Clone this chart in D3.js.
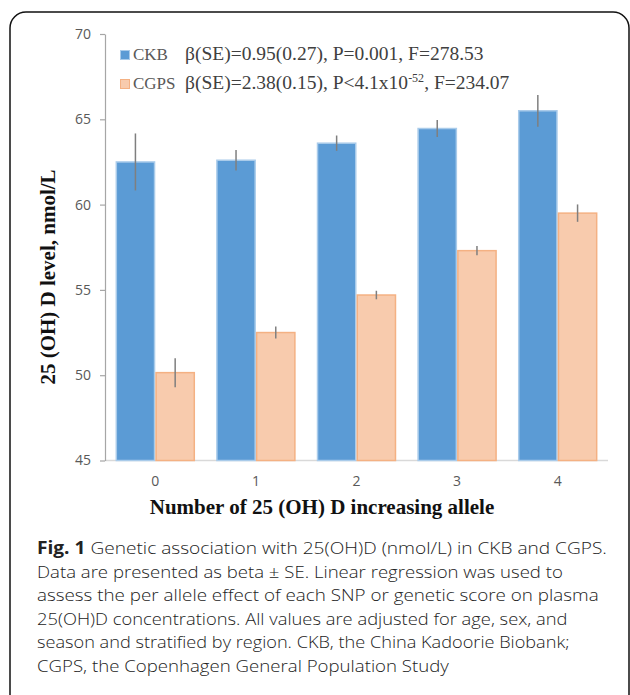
<!DOCTYPE html>
<html>
<head>
<meta charset="utf-8">
<script src="https://cdn.jsdelivr.net/npm/d3@7"></script>
<style>
  html, body { margin: 0; padding: 0; background: #fff; }
  svg { display: block; }
</style>
</head>
<body>
<svg id="chart" width="630" height="695"></svg>
<script>
const categories = ["0", "1", "2", "3", "4"];
const seriesNames = ["CKB", "CGPS"];
const ckbValues = [62.5, 62.6, 63.6, 64.46, 65.5];
const ckbSE = [1.67, 0.6, 0.45, 0.5, 0.93];
const cgpsValues = [50.15, 52.5, 54.7, 57.3, 59.5];
const cgpsSE = [0.85, 0.35, 0.25, 0.27, 0.51];
const yTicks = [45, 50, 55, 60, 65, 70];
const captionLines = [
  ["Fig. 1", " Genetic association with 25(OH)D (nmol/L) in CKB and CGPS."],
  ["", "Data are presented as beta \u00b1 SE. Linear regression was used to"],
  ["", "assess the per allele effect of each SNP or genetic score on plasma"],
  ["", "25(OH)D concentrations. All values are adjusted for age, sex, and"],
  ["", "season and stratified by region. CKB, the China Kadoorie Biobank;"],
  ["", "CGPS, the Copenhagen General Population Study"]
];
const captionLineEnds = [607, 563, 599, 568, 570, 449];

const svg = d3.select("#chart");

// frame
svg.append("rect")
  .attr("x", 10).attr("y", 12).attr("width", 619).attr("height", 740)
  .attr("rx", 16).attr("ry", 16)
  .attr("fill", "none").attr("stroke", "#111").attr("stroke-width", 1.5);

const x0 = d3.scaleBand().domain(categories).range([105, 608])
  .paddingInner(0.21).paddingOuter(0.105);
const x1 = d3.scaleBand().domain(seriesNames).range([0, x0.bandwidth()]);
const y = d3.scaleLinear().domain([45, 70]).range([460.5, 34]);

const colors = { CKB: "#5B9BD5", CGPS: "#F8CBAD" };
const strokes = { CKB: "#A9CBEA", CGPS: "#F4B183" };

const data = categories.map((c, i) => ({
  cat: c,
  vals: [
    { s: "CKB", v: ckbValues[i], se: ckbSE[i] },
    { s: "CGPS", v: cgpsValues[i], se: cgpsSE[i] }
  ]
}));

// x axis line
svg.append("line")
  .attr("x1", 105).attr("x2", 608)
  .attr("y1", y(45)).attr("y2", y(45))
  .attr("stroke", "#D9D9D9").attr("stroke-width", 1.5);

const groups = svg.append("g").selectAll("g").data(data).join("g")
  .attr("transform", d => `translate(${x0(d.cat)},0)`);

groups.selectAll("rect").data(d => d.vals).join("rect")
  .attr("x", d => x1(d.s) + 0.75)
  .attr("width", x1.bandwidth() - 1.5)
  .attr("y", d => y(d.v))
  .attr("height", d => y(45) - y(d.v))
  .attr("fill", d => colors[d.s])
  .attr("stroke", d => strokes[d.s])
  .attr("stroke-width", 1.5);

groups.selectAll("line.err").data(d => d.vals).join("line")
  .attr("class", "err")
  .attr("x1", d => x1(d.s) + x1.bandwidth() / 2)
  .attr("x2", d => x1(d.s) + x1.bandwidth() / 2)
  .attr("y1", d => y(d.v + d.se))
  .attr("y2", d => y(d.v - d.se))
  .attr("stroke", "#7F7F7F").attr("stroke-width", 1.5);

// y axis
const yAxis = d3.axisLeft(y).tickValues(yTicks).tickSize(5).tickPadding(9).tickSizeOuter(0);
const ya = svg.append("g").attr("transform", "translate(105,0)").call(yAxis);
ya.select(".domain").attr("stroke", "#A6A6A6").attr("stroke-width", 1.2);
ya.selectAll(".tick line").attr("stroke", "#A6A6A6").attr("stroke-width", 1.2);
ya.selectAll(".tick text")
  .attr("fill", "#595959")
  .style("font-family", "'Open Sans', 'Noto Sans', sans-serif")
  .style("font-size", "14px");

// x axis labels
const xAxis = d3.axisBottom(x0).tickSize(0).tickPadding(16);
const xa = svg.append("g").attr("transform", `translate(0,${y(45)})`).call(xAxis);
xa.select(".domain").remove();
xa.selectAll(".tick text")
  .attr("fill", "#595959")
  .style("font-family", "'Open Sans', 'Noto Sans', sans-serif")
  .style("font-size", "14px");

// axis titles
svg.append("text")
  .attr("x", 322).attr("y", 514)
  .attr("text-anchor", "middle")
  .style("font-family", "'Liberation Serif', 'Times New Roman', serif")
  .style("font-weight", "bold").style("font-size", "21px")
  .attr("fill", "#111")
  .text("Number of 25 (OH) D increasing allele");

svg.append("text")
  .attr("transform", "translate(55,277) rotate(-90)")
  .attr("text-anchor", "middle")
  .style("font-family", "'Liberation Serif', 'Times New Roman', serif")
  .style("font-weight", "bold").style("font-size", "21px")
  .attr("fill", "#111")
  .text("25 (OH) D level, nmol/L");

// legend
const legendRows = [
  { s: "CKB", y: 60 },
  { s: "CGPS", y: 89 }
];
const lg = svg.append("g");
lg.selectAll("rect").data(legendRows).join("rect")
  .attr("x", 120.5).attr("y", d => d.y - 9.5)
  .attr("width", 9).attr("height", 9)
  .attr("fill", d => colors[d.s]).attr("stroke", d => strokes[d.s]).attr("stroke-width", 1);
lg.selectAll("text.name").data(legendRows).join("text")
  .attr("class", "name")
  .attr("x", 133).attr("y", d => d.y)
  .style("font-family", "'Liberation Serif', 'Times New Roman', serif")
  .style("font-size", "17px").attr("fill", "#595959")
  .text(d => d.s);

const statFont = "'Liberation Serif', 'Times New Roman', serif";
const t1 = svg.append("text").attr("x", 185).attr("y", 60)
  .style("font-family", statFont).style("font-size", "19.5px").attr("fill", "#404040");
t1.text("\u03b2(SE)=0.95(0.27), P=0.001, F=278.53");

const t2 = svg.append("text").attr("x", 185).attr("y", 89)
  .style("font-family", statFont).style("font-size", "19.5px").attr("fill", "#404040");
t2.append("tspan").text("\u03b2(SE)=2.38(0.15), P<4.1x10");
t2.append("tspan").attr("dy", -7).style("font-size", "12px").text("-52");
t2.append("tspan").attr("dy", 7).text(", F=234.07");

// caption
const cap = svg.append("g");
captionLines.forEach((ln, i) => {
  const yy = 554 + i * 23.6;
  const t = cap.append("text")
    .attr("x", 0).attr("y", 0)
    .style("font-family", "'Open Sans', 'Noto Sans', sans-serif")
    .style("font-size", "17px").attr("fill", "#222");
  if (ln[0]) t.append("tspan").style("font-weight", "bold").text(ln[0]);
  t.append("tspan").style("font-weight", "300").text(ln[1]);
  const w = t.node().getComputedTextLength();
  const k = (captionLineEnds[i] - 37) / w;
  t.attr("transform", `translate(37,${yy}) scale(${k},1)`);
});
</script>
</body>
</html>
